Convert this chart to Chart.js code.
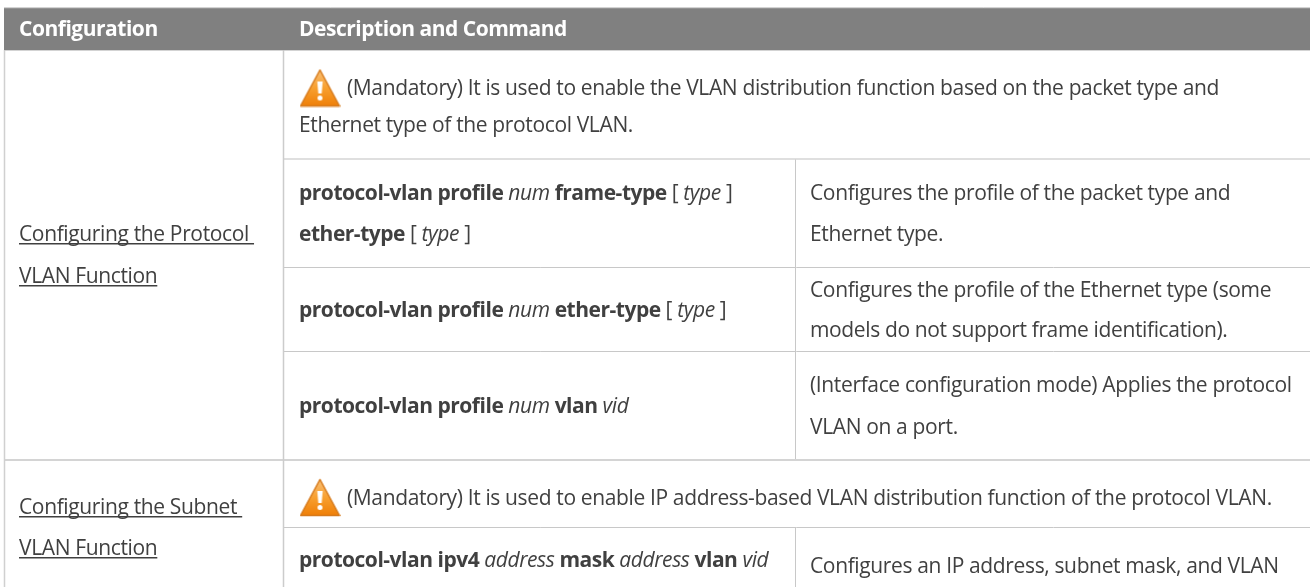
<!DOCTYPE html>
<html>
<head>
<meta charset="utf-8">
<script src="https://cdn.jsdelivr.net/npm/chart.js@4"></script>
<style>
  html, body { margin: 0; padding: 0; background: #fff; overflow: hidden; }
  canvas { display: block; }
</style>
</head>
<body>
<canvas id="tableChart" width="1310" height="587"></canvas>
<script>
// table geometry, in page units of the two linear scales
const columnEdges = [4.5, 283.5, 795.5, 1310];
const rowEdges = [8, 50, 159, 267.5, 351.5, 460, 527.5, 587];

// cell text, b = bold, i = italic, r = regular
const headerLabels = ['Configuration', 'Description and Command'];
const configLines = [
    ['Configuring the Protocol ', 'VLAN Function'],
    ['Configuring the Subnet ', 'VLAN Function']
];
const noticeLines = [
    [[['r', '(Mandatory) It is used to enable the VLAN distribution function based on the packet type and']], [['r', 'Ethernet type of the protocol VLAN.']]],
    [[['r', '(Mandatory) It is used to enable IP address-based VLAN distribution function of the protocol VLAN.']]]
];
const commandLines = [
    [[['b', 'protocol-vlan profile '], ['i', 'num '], ['b', 'frame-type '], ['r', '[ '], ['i', 'type '], ['r', ']']], [['b', 'ether-type '], ['r', '[ '], ['i', 'type '], ['r', ']']]],
    [[['b', 'protocol-vlan profile '], ['i', 'num '], ['b', 'ether-type '], ['r', '[ '], ['i', 'type '], ['r', ']']]],
    [[['b', 'protocol-vlan profile '], ['i', 'num '], ['b', 'vlan '], ['i', 'vid']]],
    [[['b', 'protocol-vlan ipv4 '], ['i', 'address '], ['b', 'mask '], ['i', 'address '], ['b', 'vlan '], ['i', 'vid']]]
];
const effectLines = [
    ['Configures the profile of the packet type and', 'Ethernet type.'],
    ['Configures the profile of the Ethernet type (some', 'models do not support frame identification).'],
    ['(Interface configuration mode) Applies the protocol', 'VLAN on a port.'],
    ['Configures an IP address, subnet mask, and VLAN']
];

// text baselines
const headerBaseline = 36;
const configBaselines = [[241, 283], [514, 555]];
const noticeBaselines = [[95, 132], [505]];
const commandBaselines = [[200, 241], [317], [413], [567]];
const effectBaselines = [[200, 241], [297, 337], [392, 434], [573]];
const iconPoints = [{ x: 320, y: 88 }, { x: 320, y: 497.5 }];

const FONT = '"Open Sans"';
const TEXT_COLOR = '#404040';
const RULE_COLOR = '#c8c8c8';
const SIZE = 21;
const SPACING = { r: '-0.36px', i: '-0.4px', b: '-0.48px' };

function warningIcon() {
    const c = document.createElement('canvas');
    c.width = 41;
    c.height = 39;
    const g = c.getContext('2d');
    const grad = g.createLinearGradient(0, 0, 0, 39);
    grad.addColorStop(0, '#f8c27c');
    grad.addColorStop(0.5, '#f8a030');
    grad.addColorStop(1, '#ee7c04');
    g.fillStyle = grad;
    g.strokeStyle = '#d67a1c';
    g.lineJoin = 'round';
    g.lineWidth = 1.5;
    g.beginPath();
    g.moveTo(20.5, 1.5);
    g.lineTo(40, 37.5);
    g.lineTo(1, 37.5);
    g.closePath();
    g.fill();
    g.stroke();
    g.fillStyle = '#fff';
    g.beginPath();
    g.moveTo(17.8, 13);
    g.lineTo(23.2, 13);
    g.lineTo(22.2, 25);
    g.lineTo(18.8, 25);
    g.closePath();
    g.fill();
    g.beginPath();
    g.arc(20.5, 29.5, 2.5, 0, Math.PI * 2);
    g.fill();
    return c;
}

function rule(x1, x2, y1, y2, width, color) {
    return {
        data: [{ x: x1, y: y1 }, { x: x2, y: y2 }],
        showLine: true,
        borderColor: color || RULE_COLOR,
        borderWidth: width || 1,
        pointRadius: 0,
        fill: false
    };
}

const [xLeft, xMain, xSplit, xRight] = columnEdges;
const [yTop, yHead, yA, yB, yC, yD, yE, yBottom] = rowEdges;

const datasets = [
    {
        data: [{ x: xLeft - 0.5, y: yTop }, { x: xRight, y: yTop }],
        showLine: true,
        borderColor: '#a6a6a6',
        borderWidth: 1,
        pointRadius: 0,
        backgroundColor: '#808080',
        fill: { value: yHead }
    },
    rule(xLeft, xRight, yHead, yHead, 1.5, '#c4c4c4'),
    rule(xLeft, xLeft, yHead, yBottom, 1.5, '#d0d0d0'),
    rule(xMain, xMain, yTop, yBottom, 1.5, '#cccccc'),
    rule(xMain, xRight, yA, yA, 1.5, '#d4d4d4'),
    rule(xMain, xRight, yB, yB),
    rule(xMain, xRight, yC, yC),
    rule(xLeft, xRight, yD, yD, 2, '#d4d4d4'),
    rule(xMain, xRight, yE, yE),
    rule(xSplit, xSplit, yA, yD),
    rule(xSplit, xSplit, yE, yBottom),
    {
        data: iconPoints,
        showLine: false,
        pointStyle: warningIcon(),
        pointRadius: 16
    }
];

function setFont(ctx, kind) {
    if (kind === 'b') ctx.font = `bold ${SIZE}px ${FONT}`;
    else if (kind === 'i') ctx.font = `italic ${SIZE}px ${FONT}`;
    else ctx.font = `${SIZE}px ${FONT}`;
    ctx.letterSpacing = SPACING[kind];
}

const tableText = {
    id: 'tableText',
    afterDatasetsDraw(chart) {
        const { ctx, scales } = chart;
        const px = v => scales.x.getPixelForValue(v);
        const py = v => scales.y.getPixelForValue(v);

        function runs(line, x, y) {
            let cursor = px(x);
            line.forEach(([kind, text]) => {
                setFont(ctx, kind);
                ctx.fillText(text, cursor, py(y));
                cursor += ctx.measureText(text).width;
            });
        }

        ctx.save();
        ctx.textBaseline = 'alphabetic';

        // header
        ctx.fillStyle = '#ffffff';
        setFont(ctx, 'b');
        ctx.fillText(headerLabels[0], px(19), py(headerBaseline));
        ctx.fillText(headerLabels[1], px(299), py(headerBaseline));

        ctx.fillStyle = TEXT_COLOR;

        // linked cells on the left, underlined
        configLines.forEach((lines, i) => {
            lines.forEach((text, j) => {
                const y = configBaselines[i][j];
                setFont(ctx, 'r');
                ctx.fillText(text, px(19), py(y));
                const w = ctx.measureText(text).width;
                ctx.fillRect(px(19), py(y) + 2, w, 1.5);
            });
        });

        noticeLines.forEach((lines, i) => {
            lines.forEach((line, j) => runs(line, j === 0 ? 347 : 299, noticeBaselines[i][j]));
        });
        commandLines.forEach((lines, i) => {
            lines.forEach((line, j) => runs(line, 299, commandBaselines[i][j]));
        });
        effectLines.forEach((lines, i) => {
            lines.forEach((text, j) => runs([['r', text]], 810, effectBaselines[i][j]));
        });
        ctx.restore();
    }
};

new Chart(document.getElementById('tableChart').getContext('2d'), {
    type: 'scatter',
    data: { datasets },
    plugins: [tableText],
    options: {
        responsive: false,
        animation: false,
        events: [],
        layout: { padding: 0, autoPadding: false },
        plugins: { legend: { display: false }, tooltip: { enabled: false } },
        scales: {
            x: { type: 'linear', display: false, min: 0, max: 1310 },
            y: { type: 'linear', display: false, min: 0, max: 587, reverse: true }
        }
    }
});
</script>
</body>
</html>
